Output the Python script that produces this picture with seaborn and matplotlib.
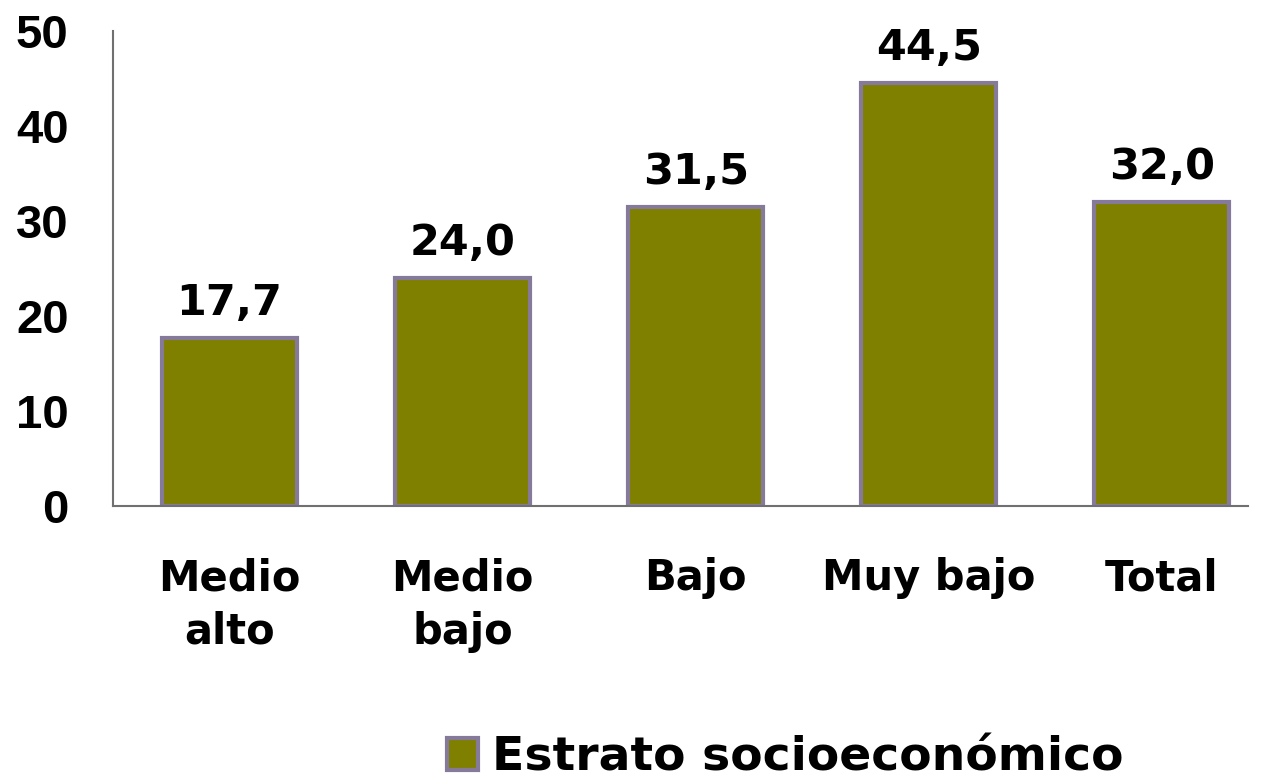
import matplotlib
matplotlib.use("Agg")
import matplotlib.pyplot as plt
import matplotlib.patches as mpatches
import seaborn as sns

# datos
categorias = ["Medio\nalto", "Medio\nbajo", "Bajo", "Muy bajo", "Total"]
valores = [17.7, 24.0, 31.5, 44.5, 32.0]
etiquetas = [f"{v:.1f}".replace(".", ",") for v in valores]
yticks = [0, 10, 20, 30, 40, 50]
serie = "Estrato socioeconómico"

sns.set_style("white")
plt.rcParams["font.family"] = ["DejaVu Sans"]
plt.rcParams["text.color"] = "black"
plt.rcParams["xtick.color"] = "black"
plt.rcParams["ytick.color"] = "black"

oliva = "#808000"
borde = "#857A9A"

fig = plt.figure(figsize=(12.61, 7.84), dpi=100)
ax = fig.add_axes([0.0896, 0.355, 0.9001, 0.6055])

sns.barplot(x=categorias, y=valores, color=oliva, saturation=1,
            edgecolor=borde, linewidth=3, width=0.58, ax=ax)

ax.bar_label(ax.containers[0], labels=etiquetas, padding=10,
             fontsize=31, fontweight="bold", color="black")

ax.set_ylim(0, 50)
ax.set_xlim(-0.5, 4.37)
ax.set_yticks(yticks)
ax.set_yticklabels([str(t) for t in yticks], fontsize=34, fontweight="bold",
                   family="Liberation Sans")
ax.tick_params(axis="y", length=0, pad=32)
ax.tick_params(axis="x", length=0, pad=37)
for lbl in ax.get_xticklabels():
    lbl.set_fontsize(30)
    lbl.set_fontweight("bold")
    lbl.set_linespacing(1.35)

sns.despine(ax=ax)
for s in ["left", "bottom"]:
    ax.spines[s].set_color("#707070")
    ax.spines[s].set_linewidth(1.5)
ax.set_xlabel("")
ax.set_ylabel("")

handle = mpatches.Patch(facecolor=oliva, edgecolor=borde, linewidth=3, label=serie)
fig.legend(handles=[handle], loc="center", bbox_to_anchor=(785 / 1261, 1 - 758 / 784),
           frameon=False, prop={"size": 34, "weight": "bold"},
           handlelength=0.65, handleheight=0.65, handletextpad=0.3,
           borderpad=0.1)

fig.savefig("out.png", dpi=100)
